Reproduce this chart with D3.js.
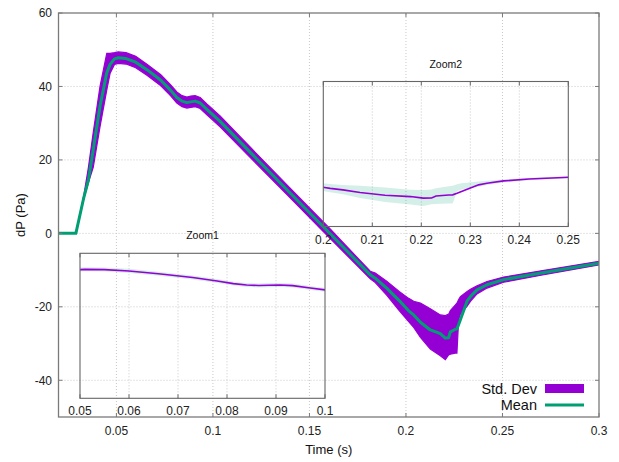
<!DOCTYPE html>
<html>
<head>
<meta charset="utf-8">
<script src="https://cdn.jsdelivr.net/npm/d3@7"></script>
<style>
  body { margin: 0; background: #fff; }
  svg { font-family: "Liberation Sans", Arial, sans-serif; }
  .grid line { stroke: #c8c8c8; stroke-width: 1; stroke-dasharray: 1,2; }
</style>
</head>
<body>
<svg id="chart" width="619" height="462"></svg>
<script>
// time axis (s)
const time = [0.02, 0.029, 0.033, 0.0355, 0.038, 0.0415, 0.045, 0.0467, 0.049, 0.051,
  0.055, 0.06, 0.066, 0.073, 0.078, 0.0813, 0.084, 0.0865, 0.0885, 0.0908,
  0.0934, 0.097, 0.1037, 0.12, 0.14, 0.16, 0.1815, 0.1841, 0.19, 0.1965,
  0.2014, 0.204, 0.2075, 0.2126, 0.2178, 0.2204, 0.2221, 0.223, 0.2256, 0.2264,
  0.2273, 0.2282, 0.2317, 0.2334, 0.2368, 0.242, 0.2506, 0.27, 0.3];

// mean dP (Pa)
const meanDP = [0, 0, 9.5, 14.5, 22.8, 34.6, 43.7, 46, 47.5, 47.8,
  47.6, 46.6, 44.5, 41.7, 39, 37, 36, 35.6, 35.8, 36,
  35.5, 33.7, 30.5, 21.7, 11, 0.3, -11.3, -12.2, -14.9, -18.3,
  -21.1, -22.2, -24.2, -26.3, -27.3, -28.5, -28.4, -26.8, -26.1, -26.0,
  -24.8, -23.5, -18.4, -17.2, -15.4, -14, -12.6, -10.8, -8.1];

// mean - std / mean + std
const lowerDP = [0, 0, 9.3, 13.8, 18, 29, 39, 43.5, 46, 46.3,
  46.1, 45.1, 43, 40.2, 37.5, 35.5, 34.5, 34.1, 34.3, 34.5,
  34, 32.2, 29, 20.3, 9.7, -1, -12.4, -13.4, -16.8, -21,
  -24, -25.6, -28.3, -31.5, -33.3, -34.4, -33.1, -32.9, -32.6, -32.6,
  -23.5, -22, -19.8, -18.5, -16.5, -14.9, -13.3, -11.4, -8.6];
const upperDP = [0, 0, 10, 18, 27.5, 40, 49, 49, 49.2, 49.4,
  49.2, 48.2, 46, 43.2, 40.5, 38.5, 37.5, 37.1, 37.4, 37.5,
  37, 35.2, 32, 23.1, 12.3, 1.6, -10.3, -10.8, -13, -15.8,
  -17.7, -18.5, -19, -20.5, -22.2, -22.4, -22, -21, -19.5, -19,
  -18, -17.2, -15.8, -15.2, -14.3, -13.1, -11.9, -10.2, -7.6];

const xTicks = [0.05, 0.1, 0.15, 0.2, 0.25, 0.3];
const yTicks = [-40, -20, 0, 20, 40, 60];
const zoom1Ticks = [0.05, 0.06, 0.07, 0.08, 0.09, 0.1];
const zoom2Ticks = [0.2, 0.21, 0.22, 0.23, 0.24, 0.25];

const data = time.map((t, i) => ({ t: t, mean: meanDP[i], lo: lowerDP[i], hi: upperDP[i] }));

const purple = "#9400d3";
const teal = "#009e73";
const fmt = d => String(+d.toFixed(3));

const svg = d3.select("#chart");

// main plot scales
const x = d3.scaleLinear().domain([0.02, 0.3]).range([58.5, 599]);
const y = d3.scaleLinear().domain([-50, 60]).range([417, 13]);

// grid
const grid = svg.append("g").attr("class", "grid");
grid.selectAll(".gx").data(xTicks.filter(d => d < 0.3)).enter().append("line")
  .attr("x1", d => x(d)).attr("x2", d => x(d))
  .attr("y1", y.range()[0]).attr("y2", y.range()[1]);
grid.selectAll(".gy").data(yTicks.filter(d => d < 60)).enter().append("line")
  .attr("x1", x.range()[0]).attr("x2", x.range()[1])
  .attr("y1", d => y(d)).attr("y2", d => y(d));

svg.append("clipPath").attr("id", "clipMain").append("rect")
  .attr("x", x.range()[0]).attr("y", y.range()[1])
  .attr("width", x.range()[1] - x.range()[0])
  .attr("height", y.range()[0] - y.range()[1]);

// std dev band
const band = (sx, sy) => d3.area().x(d => sx(d.t)).y0(d => sy(d.lo)).y1(d => sy(d.hi));
const meanLine = (sx, sy) => d3.line().x(d => sx(d.t)).y(d => sy(d.mean));

svg.append("path").datum(data)
  .attr("clip-path", "url(#clipMain)")
  .attr("d", band(x, y))
  .attr("fill", purple)
  .attr("stroke", purple).attr("stroke-width", 1.2);

svg.append("path").datum(data)
  .attr("clip-path", "url(#clipMain)")
  .attr("d", meanLine(x, y))
  .attr("fill", "none")
  .attr("stroke", teal).attr("stroke-width", 3)
  .attr("stroke-linejoin", "round");

// axes, ticks on all four sides pointing in
function drawAxes(g, sx, sy, xt, yt, opts) {
  const x0 = sx.range()[0], x1 = sx.range()[1];
  const y0 = sy.range()[0], y1 = sy.range()[1];
  g.append("rect")
    .attr("x", x0).attr("y", y1).attr("width", x1 - x0).attr("height", y0 - y1)
    .attr("fill", "none").attr("stroke", opts.border).attr("stroke-width", opts.bw);
  g.selectAll(".tb").data(xt).enter().append("line")
    .attr("x1", d => sx(d)).attr("x2", d => sx(d))
    .attr("y1", y0).attr("y2", y0 - 4).attr("stroke", opts.border);
  g.selectAll(".tt").data(xt).enter().append("line")
    .attr("x1", d => sx(d)).attr("x2", d => sx(d))
    .attr("y1", y1).attr("y2", y1 + 4).attr("stroke", opts.border);
  g.selectAll(".xl").data(xt).enter().append("text")
    .attr("x", d => sx(d)).attr("y", y0 + opts.xlOff)
    .attr("text-anchor", "middle").attr("font-size", 12).attr("fill", "#222")
    .text(fmt);
  if (yt) {
    g.selectAll(".tl").data(yt).enter().append("line")
      .attr("x1", x0).attr("x2", x0 + 4)
      .attr("y1", d => sy(d)).attr("y2", d => sy(d)).attr("stroke", opts.border);
    g.selectAll(".tr").data(yt).enter().append("line")
      .attr("x1", x1).attr("x2", x1 - 4)
      .attr("y1", d => sy(d)).attr("y2", d => sy(d)).attr("stroke", opts.border);
    g.selectAll(".yl").data(yt).enter().append("text")
      .attr("x", x0 - 6.5).attr("y", d => sy(d) + 4.3)
      .attr("text-anchor", "end").attr("font-size", 12).attr("fill", "#222")
      .text(d => d);
  }
}

drawAxes(svg.append("g"), x, y, xTicks, yTicks, { border: "#7a7a7a", bw: 1.3, xlOff: 17.5 });

svg.append("text")
  .attr("x", (x.range()[0] + x.range()[1]) / 2).attr("y", 453.5)
  .attr("text-anchor", "middle").attr("font-size", 13).attr("fill", "#111")
  .text("Time (s)");
svg.append("text")
  .attr("transform", "translate(24.5,215) rotate(-90)")
  .attr("text-anchor", "middle").attr("font-size", 13).attr("fill", "#111")
  .text("dP (Pa)");

// legend
const leg = svg.append("g").attr("font-size", 14.5).attr("fill", "#111");
leg.append("text").attr("x", 537).attr("y", 393.5).attr("text-anchor", "end").text("Std. Dev");
leg.append("rect").attr("x", 545).attr("y", 384).attr("width", 39).attr("height", 9).attr("fill", purple);
leg.append("text").attr("x", 537).attr("y", 410).attr("text-anchor", "end").text("Mean");
leg.append("line").attr("x1", 545).attr("x2", 584).attr("y1", 405).attr("y2", 405)
  .attr("stroke", teal).attr("stroke-width", 3);

// zoomed insets
function inset(id, title, xDomain, ticks, left, top) {
  const w = 245, h = 145;
  const sx = d3.scaleLinear().domain(xDomain).range([left, left + w]);
  const sy = d3.scaleLinear().domain([-50, 60]).range([top + h, top]);
  const g = svg.append("g");
  const ig = g.append("g").attr("class", "grid");
  ig.selectAll("line").data(ticks.slice(1, -1)).enter().append("line")
    .attr("x1", d => sx(d)).attr("x2", d => sx(d))
    .attr("y1", top).attr("y2", top + h);
  g.append("clipPath").attr("id", id).append("rect")
    .attr("x", left).attr("y", top).attr("width", w).attr("height", h);
  g.append("path").datum(data)
    .attr("clip-path", "url(#" + id + ")")
    .attr("d", band(sx, sy))
    .attr("fill", teal).attr("fill-opacity", 0.17);
  g.append("path").datum(data)
    .attr("clip-path", "url(#" + id + ")")
    .attr("d", meanLine(sx, sy))
    .attr("fill", "none").attr("stroke", purple).attr("stroke-width", 1.6);
  drawAxes(g, sx, sy, ticks, null, { border: "#666", bw: 1.1, xlOff: 17 });
  g.append("text")
    .attr("x", left + w / 2).attr("y", top - 14)
    .attr("text-anchor", "middle").attr("font-size", 10.5).attr("fill", "#111")
    .text(title);
}

inset("clipZoom1", "Zoom1", [0.05, 0.1], zoom1Ticks, 80, 253.3);
inset("clipZoom2", "Zoom2", [0.2, 0.25], zoom2Ticks, 323.3, 81.5);
</script>
</body>
</html>
